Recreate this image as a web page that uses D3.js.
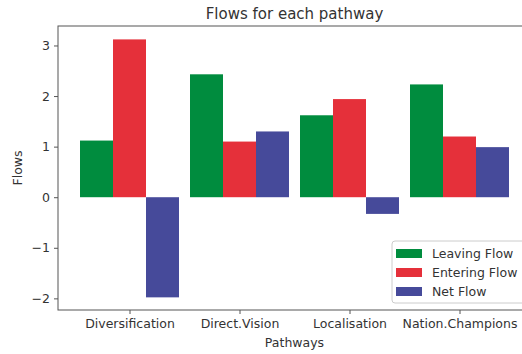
<!DOCTYPE html>
<html>
<head>
<meta charset="utf-8">
<script src="https://cdn.jsdelivr.net/npm/d3@7"></script>
<style>
html, body { margin: 0; padding: 0; background: #fff; }
svg { display: block; font-family: "DejaVu Sans", sans-serif; }
</style>
</head>
<body>
<svg id="chart" width="522" height="354"></svg>
<script>
const categories = ["Diversification", "Direct.Vision", "Localisation", "Nation.Champions"];
const seriesNames = ["Leaving Flow", "Entering Flow", "Net Flow"];
const leavingFlow = [1.12, 2.43, 1.62, 2.23];
const enteringFlow = [3.12, 1.10, 1.94, 1.20];
const netFlow = [-1.98, 1.30, -0.33, 0.99];
const yTicks = [-2, -1, 0, 1, 2, 3];
const colors = ["#008C3E", "#E5303A", "#464A9A"];

const series = [leavingFlow, enteringFlow, netFlow];

const svg = d3.select("#chart");
const margin = { left: 58, right: 531, top: 26, bottom: 310 };
const textColor = "#333";
const spineColor = "#555";

const x = d3.scaleLinear().domain([-0.65, 3.65]).range([margin.left, margin.right]);
const y = d3.scaleLinear().domain([-2.23, 3.385]).range([margin.bottom, margin.top]);
const barW = 0.3;

const g = svg.append("g");

series.forEach((vals, si) => {
  g.selectAll(".bar" + si).data(vals).enter().append("rect")
    .attr("x", (d, i) => x(i + (si - 1) * barW - barW / 2))
    .attr("width", x(barW) - x(0))
    .attr("y", d => y(Math.max(0, d)))
    .attr("height", d => Math.abs(y(d) - y(0)))
    .attr("fill", colors[si]);
});

const yAxis = d3.axisLeft(y).tickValues(yTicks).tickSize(4).tickPadding(4)
  .tickFormat(d => d < 0 ? "\u2212" + Math.abs(d) : d);
const ya = svg.append("g").attr("transform", `translate(${margin.left},0)`).call(yAxis);
const xAxis = d3.axisBottom(x).tickValues(d3.range(categories.length)).tickSize(4).tickPadding(5)
  .tickFormat(i => categories[i]);
const xa = svg.append("g").attr("transform", `translate(0,${margin.bottom})`).call(xAxis);
[ya, xa].forEach(a => {
  a.select(".domain").remove();
  a.selectAll("line").attr("stroke", spineColor);
  a.selectAll("text").attr("fill", textColor).style("font-size", "12.5px").style("font-family", "DejaVu Sans, sans-serif");
});

svg.append("rect").attr("x", margin.left).attr("y", margin.top)
  .attr("width", margin.right - margin.left).attr("height", margin.bottom - margin.top)
  .attr("fill", "none").attr("stroke", spineColor).attr("stroke-width", 1);

svg.append("text").attr("x", (margin.left + margin.right) / 2).attr("y", 19)
  .attr("text-anchor", "middle").attr("fill", textColor).style("font-size", "15px")
  .text("Flows for each pathway");
svg.append("text").attr("x", (margin.left + margin.right) / 2).attr("y", 347)
  .attr("text-anchor", "middle").attr("fill", textColor).style("font-size", "12.5px")
  .text("Pathways");
svg.append("text").attr("transform", `translate(22,${(margin.top + margin.bottom) / 2}) rotate(-90)`)
  .attr("text-anchor", "middle").attr("fill", textColor).style("font-size", "12.5px")
  .text("Flows");

const lg = svg.append("g").attr("transform", "translate(392,241)");
lg.append("rect").attr("width", 140).attr("height", 62).attr("rx", 3)
  .attr("fill", "#fff").attr("fill-opacity", 0.85).attr("stroke", "#ccc");
seriesNames.forEach((name, i) => {
  lg.append("rect").attr("x", 4).attr("y", 8 + i * 19).attr("width", 26).attr("height", 9)
    .attr("fill", colors[i]);
  lg.append("text").attr("x", 40).attr("y", 17 + i * 19).attr("fill", textColor)
    .style("font-size", "12.5px").text(name);
});
</script>
</body>
</html>
